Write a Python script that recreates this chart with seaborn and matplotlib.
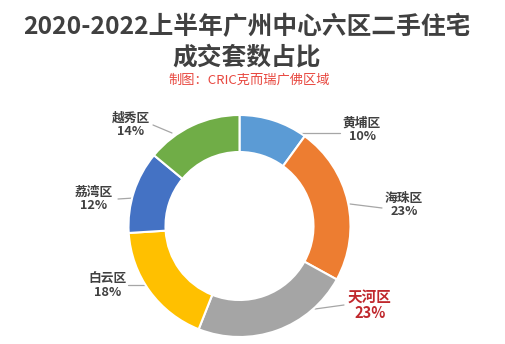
import matplotlib
matplotlib.use("Agg")
import matplotlib.pyplot as plt
import seaborn as sns

# ---- data ----
districts = ["黄埔区", "海珠区", "天河区", "白云区", "荔湾区", "越秀区"]
shares = [10, 23, 23, 18, 12, 14]
colors = ["#5B9BD5", "#ED7D31", "#A5A5A5", "#FFC000", "#4472C4", "#70AD47"]
title_line1 = "2020-2022上半年广州中心六区二手住宅"
title_line2 = "成交套数占比"
subtitle = "制图：CRIC克而瑞广佛区域"

sns.set_theme(style="white")
plt.rcParams['font.family'] = ['Noto Sans CJK SC', 'DejaVu Sans']

W, H = 505, 344
fig = plt.figure(figsize=(W / 100, H / 100), dpi=100)
fig.patch.set_facecolor("white")
ax = fig.add_axes([0, 0, 1, 1])

cx, cy, R = 239.5, H - 226, 111
wedges, _ = ax.pie(shares, colors=colors, startangle=90, counterclock=False,
                   center=(cx, cy), radius=R,
                   wedgeprops=dict(width=37, edgecolor="white", linewidth=1.5),
                   frame=True)
ax.set_xlim(0, W)
ax.set_ylim(0, H)
ax.set_aspect("equal")
ax.axis("off")

# label layout (pixel coords from top-left): text centre, leader line ends
label_pos = [(362, 130), (404, 205), (370, 305), (108, 286), (94, 199), (131, 125)]
leaders = [((298, 133), (340, 133)), ((350, 204), (382, 208)), ((315, 309), (344, 305)),
           ((128, 285), (150, 285)), ((118, 199), (134, 198)), ((153, 125), (172, 133))]

for i, (name, val) in enumerate(zip(districts, shares)):
    (x0, y0), (x1, y1) = leaders[i]
    ax.plot([x0, x1], [H - y0, H - y1], color="#A6A6A6", lw=0.9, zorder=0.5)
    tx, ty = label_pos[i]
    if name == "天河区":
        col, fs = "#C0282D", 10.5
    else:
        col, fs = "#404040", 9.2
    ax.text(tx, H - ty, f"{name}\n{val}%", ha="center", va="center",
            fontsize=fs, color=col, fontweight="bold", linespacing=1.05)

fig.text(247 / W, 1 - 27 / H, title_line1, ha="center", va="center",
         fontsize=17.8, fontweight="bold", color="#404040")
fig.text(247 / W, 1 - 58 / H, title_line2, ha="center", va="center",
         fontsize=17.8, fontweight="bold", color="#404040")
fig.text(249 / W, 1 - 80 / H, subtitle, ha="center", va="center",
         fontsize=9.5, color="#E8473F")

fig.savefig("out.png", dpi=100, facecolor="white")
